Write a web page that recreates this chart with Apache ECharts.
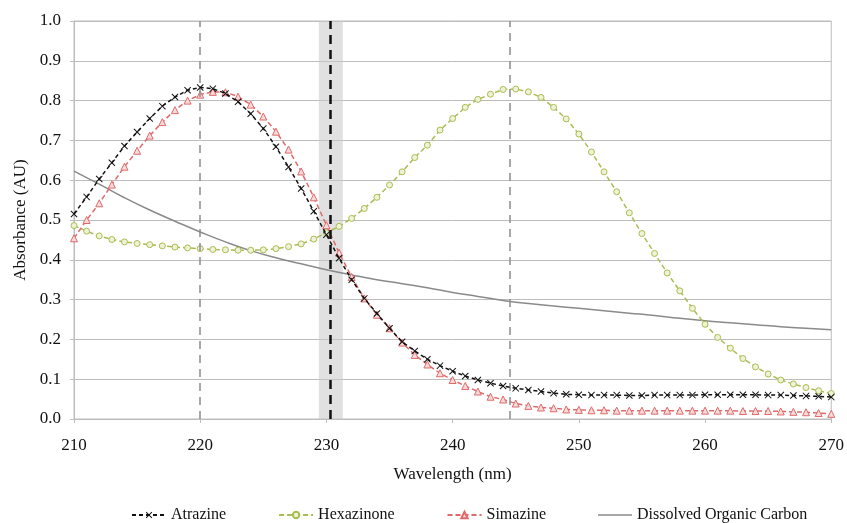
<!DOCTYPE html>
<html lang="en">
<head>
  <meta charset="UTF-8">
  <title>Absorbance spectra</title>
  <style>
    html, body {margin: 0; padding: 0; background: #fff}
    #chart {width: 847px; height: 523px}
  </style>
  <script src="https://cdn.jsdelivr.net/npm/echarts@6/dist/echarts.min.js"></script>
</head>
<body>
  <div id="chart"></div>
  <script>
    // wavelength (nm), one reading every nm
    const wavelengths = [210,211,212,213,214,215,216,217,218,219,220,221,222,223,224,225,226,227,228,229,
      230,231,232,233,234,235,236,237,238,239,240,241,242,243,244,245,246,247,248,249,
      250,251,252,253,254,255,256,257,258,259,260,261,262,263,264,265,266,267,268,269,270];

    const atrazine = [0.515,0.558,0.603,0.644,0.686,0.721,0.755,0.786,0.809,0.826,
      0.833,0.830,0.818,0.797,0.767,0.730,0.684,0.633,0.579,0.522,
      0.463,0.404,0.350,0.303,0.265,0.228,0.194,0.171,0.150,0.134,
      0.120,0.108,0.098,0.090,0.083,0.077,0.073,0.069,0.065,0.062,
      0.061,0.060,0.060,0.060,0.059,0.059,0.060,0.060,0.060,0.060,
      0.061,0.061,0.061,0.061,0.061,0.060,0.060,0.059,0.058,0.057,0.055];

    const hexazinone = [0.486,0.472,0.460,0.451,0.445,0.441,0.438,0.435,0.432,0.430,
      0.428,0.426,0.425,0.424,0.424,0.425,0.428,0.433,0.440,0.452,
      0.468,0.484,0.504,0.529,0.557,0.588,0.621,0.657,0.688,0.726,
      0.755,0.783,0.803,0.816,0.828,0.829,0.822,0.808,0.783,0.754,
      0.716,0.671,0.621,0.571,0.518,0.466,0.416,0.367,0.322,0.278,
      0.238,0.205,0.178,0.152,0.131,0.113,0.098,0.088,0.079,0.071,0.064];

    const simazine = [0.454,0.500,0.542,0.589,0.634,0.674,0.712,0.746,0.776,0.800,
      0.815,0.822,0.821,0.810,0.790,0.760,0.722,0.677,0.622,0.557,
      0.487,0.418,0.357,0.303,0.262,0.228,0.192,0.161,0.137,0.115,
      0.098,0.083,0.069,0.056,0.049,0.039,0.033,0.029,0.027,0.024,
      0.023,0.022,0.022,0.021,0.021,0.021,0.021,0.021,0.021,0.021,
      0.021,0.021,0.021,0.020,0.020,0.020,0.019,0.018,0.017,0.015,0.013];

    // dissolved organic carbon, read every 2 nm
    const docWavelengths = [210,212,214,216,218,220,222,224,226,228,230,232,234,236,238,240,
      242,244,246,248,250,252,254,256,258,260,262,264,266,268,270];
    const doc = [0.623,0.590,0.556,0.525,0.497,0.470,0.445,0.423,0.405,0.390,0.375,0.362,0.350,0.340,0.330,0.318,
      0.308,0.298,0.290,0.284,0.278,0.272,0.266,0.260,0.253,0.247,0.242,0.237,0.232,0.228,0.224];

    const peakLines = [220, 244.5];      // gray dashed lines at the two maxima
    const chosenLine = 230.3;            // black dashed line
    const chosenBand = [229.4, 231.3];   // shaded band round it

    const serif = '"Liberation Serif", "Times New Roman", serif';
    const pair = arr => arr.map((v, i) => [wavelengths[i], v]);

    const xSymbol = 'path://M0,1L1,0L5,4L9,0L10,1L6,5L10,9L9,10L5,6L1,10L0,9L4,5Z';

    const chart = echarts.init(document.getElementById('chart'));
    chart.setOption({
      animation: false,
      textStyle: {fontFamily: serif, color: '#111'},
      grid: {left: 74, right: 12, top: 21, bottom: 104, show: true, borderColor: '#bdbdbd', borderWidth: 1},
      legend: {
        top: 502, left: 126, itemGap: 52, itemWidth: 34, itemHeight: 8,
        textStyle: {fontFamily: serif, fontSize: 16, color: '#111'},
        data: ['Atrazine', 'Hexazinone', 'Simazine',
          {name: 'Dissolved Organic Carbon', icon: 'path://M0,0H34V1.5H0Z', itemStyle: {color: '#8a8a8a'}}]
      },
      xAxis: {
        type: 'value', min: 210, max: 270, interval: 10,
        name: 'Wavelength (nm)', nameLocation: 'middle', nameGap: 47,
        nameTextStyle: {fontFamily: serif, fontSize: 17, color: '#111'},
        axisLine: {lineStyle: {color: '#bdbdbd'}},
        axisTick: {show: true, length: 4, lineStyle: {color: '#bdbdbd'}},
        axisLabel: {fontFamily: serif, fontSize: 17, color: '#111', margin: 18},
        splitLine: {show: false}
      },
      yAxis: {
        type: 'value', min: 0, max: 1, interval: 0.1,
        name: 'Absorbance (AU)', nameLocation: 'middle', nameGap: 41,
        nameTextStyle: {fontFamily: serif, fontSize: 17, color: '#111'},
        axisLine: {show: true, lineStyle: {color: '#bdbdbd'}},
        axisTick: {show: true, length: 4, lineStyle: {color: '#bdbdbd'}},
        axisLabel: {fontFamily: serif, fontSize: 17, color: '#111', margin: 13, formatter: v => v.toFixed(1)},
        splitLine: {lineStyle: {color: '#bdbdbd'}}
      },
      series: [
        {
          name: 'Dissolved Organic Carbon', type: 'line', z: 2,
          data: doc.map((v, i) => [docWavelengths[i], v]),
          showSymbol: false, symbol: 'none', smooth: true,
          itemStyle: {color: '#8a8a8a'},
          lineStyle: {color: '#8a8a8a', width: 1.5},
          markArea: {
            silent: true,
            itemStyle: {color: 'rgba(200,200,200,0.55)'},
            data: [[{xAxis: chosenBand[0]}, {xAxis: chosenBand[1]}]]
          },
          markLine: {
            silent: true, symbol: 'none', label: {show: false},
            data: peakLines.map(x => ({xAxis: x, lineStyle: {color: '#8c8c8c', width: 1.5, type: [8, 6]}}))
              .concat([{xAxis: chosenLine, lineStyle: {color: '#111', width: 2.5, type: [9, 6]}}])
          }
        },
        {
          name: 'Hexazinone', type: 'line', z: 3, data: pair(hexazinone),
          symbol: 'circle', symbolSize: 6,
          itemStyle: {color: '#eef2d6', borderColor: '#a9bd52', borderWidth: 1},
          lineStyle: {color: '#a9bd52', width: 1.5, type: [5, 3]}
        },
        {
          name: 'Simazine', type: 'line', z: 4, data: pair(simazine),
          symbol: 'triangle', symbolSize: 7,
          itemStyle: {color: '#f7dada', borderColor: '#e06a6a', borderWidth: 1},
          lineStyle: {color: '#e06a6a', width: 1.5, type: [5, 3]}
        },
        {
          name: 'Atrazine', type: 'line', z: 5, data: pair(atrazine),
          symbol: xSymbol, symbolSize: 7,
          itemStyle: {color: '#111'},
          lineStyle: {color: '#111', width: 1.5, type: [4, 3]}
        }
      ]
    });
  </script>
</body>
</html>
